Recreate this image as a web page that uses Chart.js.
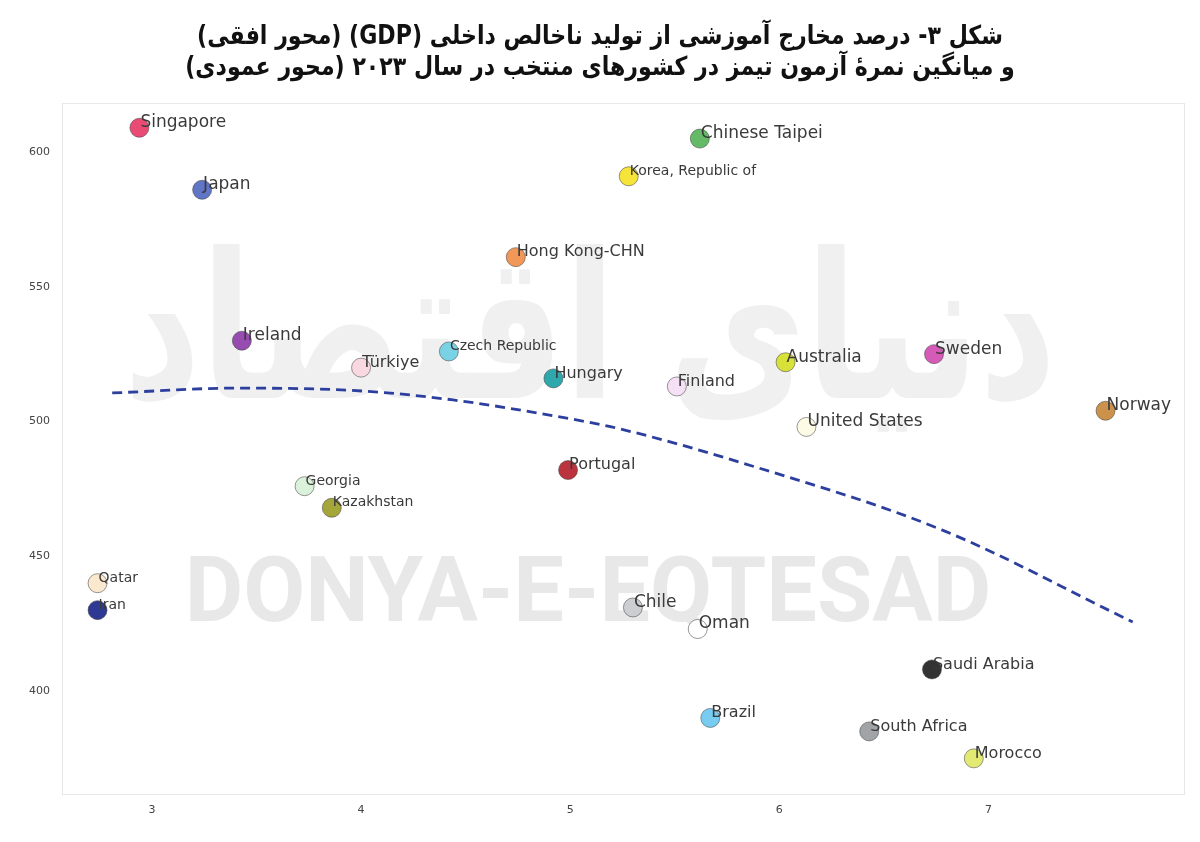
<!DOCTYPE html>
<html>
<head>
<meta charset="utf-8">
<script src="https://cdn.jsdelivr.net/npm/chart.js@4.4.1/dist/chart.umd.min.js"></script>
<style>
  html, body { margin: 0; padding: 0; background: #ffffff; }
  #wrap { position: relative; width: 1200px; height: 842px; }
  #title {
    position: absolute; left: 0; top: 20px; width: 1200px;
    text-align: center; direction: rtl;
    font-family: "DejaVu Sans", sans-serif; font-weight: bold;
    font-size: 26px; line-height: 31px; color: #111;
    transform: scaleX(0.85); transform-origin: 600px 0;
  }
  canvas { position: absolute; left: 0; top: 0; }
</style>
</head>
<body>
<div id="wrap">
  <canvas id="c" width="1200" height="842"></canvas>
  <div id="title">شکل ۳- درصد مخارج آموزشی از تولید ناخالص داخلی (GDP) (محور افقی)<br>و میانگین نمرهٔ آزمون تیمز در کشورهای منتخب در سال ۲۰۲۳ (محور عمودی)</div>
</div>
<script>
// ---- data ----
const countries = ["Singapore","Japan","Chinese Taipei","Korea, Republic of","Hong Kong-CHN","Ireland","Türkiye","Czech Republic","Hungary","Finland","Australia","Sweden","Norway","United States","Portugal","Georgia","Kazakhstan","Qatar","Iran","Chile","Oman","Saudi Arabia","Brazil","South Africa","Morocco"];
const gdpShare = [2.94,3.24,5.62,5.28,4.74,3.43,4.00,4.42,4.92,5.51,6.03,6.74,7.56,6.13,4.99,3.73,3.86,2.74,2.74,5.30,5.61,6.73,5.67,6.43,6.93];
const timssScore = [609,586,605,591,561,530,520,526,516,513,522,525,504,498,482,476,468,440,430,431,423,408,390,385,375];
const trendX = [2.81,3.41,4.01,4.44,4.95,5.22,5.87,6.78,7.69];
const trendY = [510.6,512.4,511.3,508.0,501.7,497.6,483.5,459.7,425.6];
const xTickValues = [3,4,5,6,7];
const yTickValues = [400,450,500,550,600];

// ---- styles ----
const pointColors = {
  "Singapore":"rgba(232,60,104,0.92)","Japan":"rgba(74,98,190,0.88)","Chinese Taipei":"rgba(84,178,88,0.9)",
  "Korea, Republic of":"rgba(245,226,40,0.92)","Hong Kong-CHN":"rgba(240,140,70,0.9)","Ireland":"rgba(140,56,168,0.9)",
  "Türkiye":"rgba(250,214,224,0.95)","Czech Republic":"rgba(108,206,226,0.9)","Hungary":"rgba(28,160,166,0.92)",
  "Finland":"rgba(246,222,244,0.95)","Australia":"rgba(214,224,40,0.92)","Sweden":"rgba(210,72,176,0.9)",
  "Norway":"rgba(200,136,60,0.92)","United States":"rgba(253,250,228,0.95)","Portugal":"rgba(180,34,44,0.92)",
  "Georgia":"rgba(216,240,216,0.95)","Kazakhstan":"rgba(156,158,40,0.92)","Qatar":"rgba(251,232,204,0.95)",
  "Iran":"rgba(34,46,140,0.95)","Chile":"rgba(200,204,207,0.95)","Oman":"rgba(255,255,255,0.95)",
  "Saudi Arabia":"rgba(40,40,40,0.95)","Brazil":"rgba(108,200,240,0.92)","South Africa":"rgba(152,156,160,0.92)",
  "Morocco":"rgba(224,232,104,0.92)"
};
const smallLabels = ["Korea, Republic of","Czech Republic","Georgia","Kazakhstan","Iran","Qatar"];
const bigLabels = ["Japan","Ireland","Australia","Sweden","Norway","United States","Chinese Taipei","Chile","Oman","Singapore"];

const scatterPoints = countries.map((n,i)=>({x: gdpShare[i], y: timssScore[i]}));
const trendPoints = trendX.map((x,i)=>({x, y: trendY[i]}));

const watermark = {
  id: 'watermark',
  beforeDatasetsDraw(chart) {
    const {ctx} = chart;
    ctx.save();
    ctx.fillStyle = '#f0f0f0';
    ctx.textAlign = 'center';
    ctx.textBaseline = 'middle';
    ctx.direction = 'rtl';
    ctx.translate(590, 345);
    ctx.scale(1, 1.35);
    ctx.font = 'bold 150px "DejaVu Sans"';
    ctx.fillText('دنیای اقتصاد', 0, 0);
    ctx.restore();
    ctx.save();
    ctx.fillStyle = '#e8e8e8';
    ctx.textAlign = 'center';
    ctx.textBaseline = 'middle';
    ctx.font = 'bold 90px Roboto';
    ctx.fillText('DONYA-E-EQTESAD', 588, 598);
    ctx.restore();
  }
};
const frame = {
  id: 'frame',
  beforeDraw(chart) {
    const {ctx, chartArea: a} = chart;
    ctx.save();
    ctx.strokeStyle = '#e6e9ea';
    ctx.lineWidth = 1;
    ctx.strokeRect(a.left + 0.5, a.top + 0.5, a.right - a.left - 1, a.bottom - a.top - 1);
    ctx.restore();
  }
};
const pointLabels = {
  id: 'pointLabels',
  afterDatasetsDraw(chart) {
    const {ctx} = chart;
    const meta = chart.getDatasetMeta(1);
    ctx.save();
    ctx.fillStyle = '#3a3a3a';
    ctx.textAlign = 'left';
    ctx.textBaseline = 'middle';
    meta.data.forEach((el, i) => {
      const name = countries[i];
      let size = 16;
      if (smallLabels.includes(name)) size = 14;
      if (bigLabels.includes(name)) size = 17;
      ctx.font = size + 'px "DejaVu Sans"';
      ctx.fillText(name, el.x + 1, el.y - 5);
    });
    ctx.restore();
  }
};

new Chart(document.getElementById('c'), {
  type: 'scatter',
  data: {
    datasets: [
      {
        type: 'line',
        data: trendPoints,
        borderColor: '#2d3f9e',
        borderWidth: 2.8,
        borderDash: [10, 6],
        pointRadius: 0,
        fill: false,
        tension: 0.4,
        cubicInterpolationMode: 'monotone'
      },
      {
        data: scatterPoints,
        backgroundColor: countries.map(n => pointColors[n]),
        borderColor: 'rgba(70,70,70,0.55)',
        borderWidth: 1,
        pointRadius: 9.5,
        pointHoverRadius: 9.5
      }
    ]
  },
  options: {
    responsive: false,
    animation: false,
    layout: { padding: { top: 103, right: 15, bottom: 0, left: 0 } },
    plugins: { legend: { display: false }, tooltip: { enabled: false }, title: { display: false } },
    scales: {
      x: {
        type: 'linear', min: 2.57, max: 7.94,
        grid: { display: false, drawTicks: false },
        border: { display: false },
        afterBuildTicks: s => { s.ticks = xTickValues.map(v => ({value: v})); },
        afterFit: s => { s.height = 47; },
        ticks: { padding: 9, color: '#444', font: { family: 'DejaVu Sans', size: 11 } }
      },
      y: {
        type: 'linear', min: 361.4, max: 618.2,
        grid: { display: false, drawTicks: false },
        border: { display: false },
        afterBuildTicks: s => { s.ticks = yTickValues.map(v => ({value: v})); },
        afterFit: s => { s.width = 62; },
        ticks: { padding: 12, color: '#444', font: { family: 'DejaVu Sans', size: 11 } }
      }
    }
  },
  plugins: [frame, watermark, pointLabels]
});
</script>
</body>
</html>
